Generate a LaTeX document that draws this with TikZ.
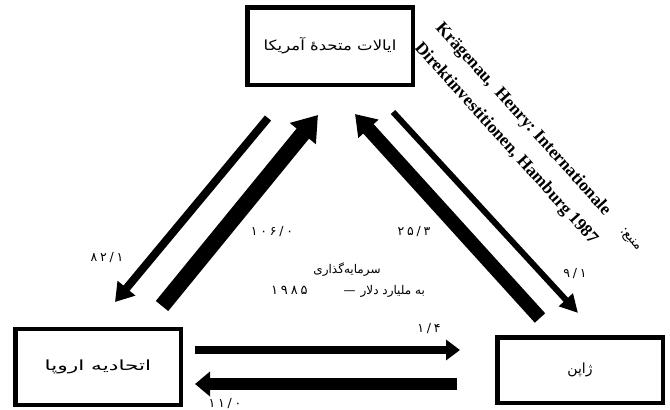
\documentclass[tikz,border=0pt]{standalone}
\usepackage{fontspec}
\setmainfont{Liberation Serif}
\newfontfamily\fa[Script=Arabic]{DejaVu Sans}
\newfontfamily\fanum[LetterSpace=22]{DejaVu Sans}
\TeXXeTstate=1
\usetikzlibrary{arrows.meta}
\begin{document}
\begin{tikzpicture}[x=1pt,y=-1pt,
  region/.style={draw, line width=4.5pt, minimum width=165.5pt, inner sep=0pt,
    font=\fa\fontsize{14}{16}\selectfont},
  numlbl/.style={font=\fanum\fontsize{12.5}{14}\selectfont, inner sep=0pt},
  midlbl/.style={font=\fa\fontsize{12}{14}\selectfont, inner sep=0pt},
  srclbl/.style={font=\bfseries\fontsize{17.5}{20}\selectfont, inner sep=0pt, rotate=-48, anchor=base west},
  flow/.style={line width=#1}
]
\fill[white] (0,0) rectangle (670,410);
\useasboundingbox (0,0) rectangle (670,410);

% regions
\node[region, minimum height=77.5pt] (us) at (330,46) {\scalebox{1.18}[1]{\beginR ایالات متحدهٔ آمریکا\endR}};
\node[region, minimum height=76pt] (eu) at (98,367) {\scalebox{1.55}[1]{\beginR اتحادیه اروپا\endR}};
\node[region, minimum height=65.5pt] (jp) at (580,370) {\beginR ژاپن\endR};

% arrow end points
\coordinate (usEUs) at (268,118);  \coordinate (usEUt) at (115,302);
\coordinate (euUSs) at (162,306);  \coordinate (euUSt) at (318,115);
\coordinate (jpUSs) at (540,318);  \coordinate (jpUSt) at (355,114);
\coordinate (usJPs) at (393,112);  \coordinate (usJPt) at (578,313);
\coordinate (euJPs) at (195,350);  \coordinate (euJPt) at (460,350);
\coordinate (jpEUs) at (457,384);  \coordinate (jpEUt) at (195,384);

\draw[flow=8pt, -{Triangle[width=22pt,length=18pt]}] (usEUs) -- (usEUt);
\draw[flow=16pt, -{Triangle[width=32pt,length=24pt]}] (euUSs) -- (euUSt);
\draw[flow=14pt, -{Triangle[width=26pt,length=20pt]}] (jpUSs) -- (jpUSt);
\draw[flow=6pt, -{Triangle[width=18pt,length=18pt]}] (usJPs) -- (usJPt);
\draw[flow=8pt, -{Triangle[width=20pt,length=14pt]}] (euJPs) -- (euJPt);
\draw[flow=12pt, -{Triangle[width=24pt,length=15pt]}] (jpEUs) -- (jpEUt);

% values
\node[numlbl] (v1) at (107,258) {۸۲/۱};
\node[numlbl] (v2) at (272,232) {۱۰۶/۰};
\node[numlbl] (v3) at (414,232) {۲۵/۳};
\node[numlbl] (v4) at (575,274) {۹/۱};
\node[numlbl] (v5) at (429,329) {۱/۴};
\node[numlbl] (v6) at (225,404) {۱۱/۰};

% centre caption
\node[midlbl] (cap1) at (347,270) {\beginR سرمایه‌گذاری\endR};
\node[midlbl] (cap2) at (348,291) {\beginR به ملیارد دلار\hspace{5pt}—\hspace{36pt}\beginL{\fanum\fontsize{13}{14}\selectfont ۱۹۸۵}\endL\endR};

% source
\node[srclbl] (src1) at (435,28) {Krägenau,\ \ Henry:\ Internationale};
\node[srclbl] (src2) at (414,48) {Direktinvestitionen, Hamburg 1987};
\node[font=\fa\fontsize{13}{15}\selectfont, inner sep=0pt, rotate=-48] (src0) at (630,240) {\beginR منبع:\endR};
\end{tikzpicture}
\end{document}
